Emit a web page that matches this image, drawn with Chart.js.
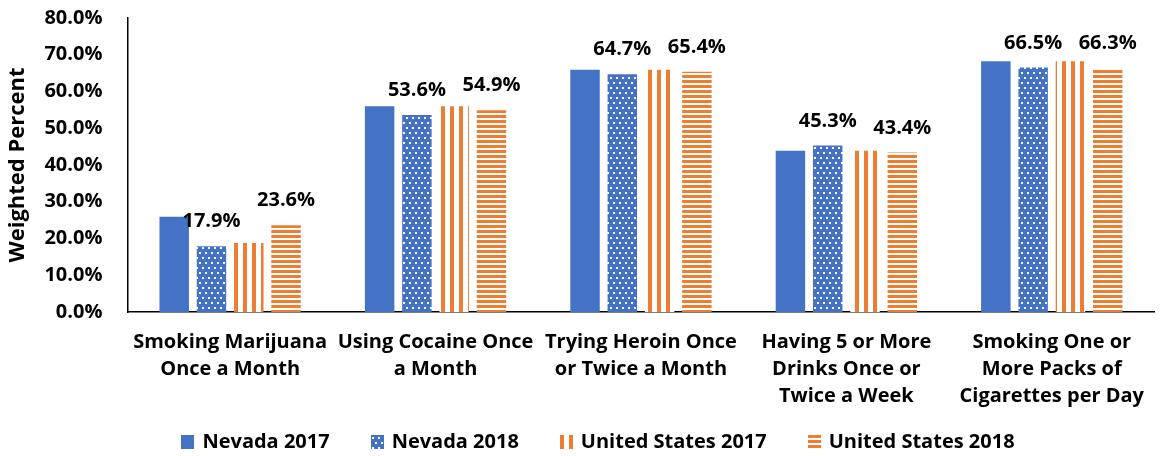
<!DOCTYPE html>
<html>
<head>
<meta charset="utf-8">
<script src="https://cdn.jsdelivr.net/npm/chart.js@4.4.1/dist/chart.umd.min.js"></script>
<style>
  html, body { margin: 0; padding: 0; background: #fff; }
  #wrap { width: 1161px; height: 456px; }
</style>
</head>
<body>
<div id="wrap"><canvas id="chart" width="1161" height="456"></canvas></div>
<script>
// категории и значения (в процентах)
const categories = [
    ['Smoking Marijuana', 'Once a Month'],
    ['Using Cocaine Once', 'a Month'],
    ['Trying Heroin Once', 'or Twice a Month'],
    ['Having 5 or More', 'Drinks Once or', 'Twice a Week'],
    ['Smoking One or', 'More Packs of', 'Cigarettes per Day']
];
const nevada2017 = [25.9, 56.0, 65.9, 43.9, 68.2];
const nevada2018 = [17.9, 53.6, 64.7, 45.3, 66.5];
const us2017 = [18.8, 56.0, 65.9, 43.9, 68.2];
const us2018 = [23.6, 54.9, 65.4, 43.4, 66.3];
const yTicks = [0, 10, 20, 30, 40, 50, 60, 70, 80];

const BLUE = '#4472C4';
const ORANGE = '#ED7D31';
const FONT = 'Open Sans';

// --- узоры для столбиков ---
function makePattern(w, h, draw) {
    const c = document.createElement('canvas');
    c.width = w; c.height = h;
    const g = c.getContext('2d');
    draw(g);
    return g.createPattern(c, 'repeat');
}
const dotsPattern = makePattern(6, 10, g => {
    g.fillStyle = BLUE; g.fillRect(0, 0, 6, 10);
    g.fillStyle = '#fff';
    g.fillRect(1, 2, 2, 2);
    g.fillRect(4, 7, 2, 2);
});
const vStripes = makePattern(9, 4, g => {
    g.fillStyle = '#fff'; g.fillRect(0, 0, 9, 4);
    g.fillStyle = ORANGE; g.fillRect(0, 0, 4, 4);
});
const hStripes = makePattern(4, 5, g => {
    g.fillStyle = '#fff'; g.fillRect(0, 0, 4, 5);
    g.fillStyle = ORANGE; g.fillRect(0, 0, 4, 3);
});

// подписи значений над столбиками Nevada 2018 и United States 2018
const valueLabels = {
    id: 'valueLabels',
    afterDatasetsDraw(chart) {
        const ctx = chart.ctx;
        ctx.save();
        ctx.font = `bold 20px "${FONT}"`;
        ctx.fillStyle = '#000';
        ctx.textAlign = 'center';
        ctx.textBaseline = 'alphabetic';
        [1, 3].forEach(di => {
            const meta = chart.getDatasetMeta(di);
            meta.data.forEach((bar, i) => {
                const v = chart.data.datasets[di].data[i];
                ctx.fillText(v.toFixed(1) + '%', bar.x, bar.y - 19);
            });
        });
        ctx.restore();
    }
};

// легенда внизу — рисуем сами, чтобы держать отступы как в оригинале
const bottomLegend = {
    id: 'bottomLegend',
    afterDraw(chart) {
        const ctx = chart.ctx;
        const sets = chart.data.datasets;
        const boxW = 13, boxH = 14, gapText = 8, gapItem = 41, cy = 442;
        ctx.save();
        ctx.font = `bold 20px "${FONT}"`;
        const widths = sets.map(ds => ctx.measureText(ds.label).width);
        const total = widths.reduce((s, w) => s + boxW + gapText + w, 0) + gapItem * (sets.length - 1);
        let x = 598 - total / 2;
        sets.forEach((ds, i) => {
            ctx.save();
            ctx.translate(Math.round(x), cy - boxH / 2);
            ctx.fillStyle = ds.backgroundColor;
            ctx.fillRect(0, 0, boxW, boxH);
            ctx.restore();
            ctx.fillStyle = '#000';
            ctx.textAlign = 'left';
            ctx.textBaseline = 'middle';
            ctx.fillText(ds.label, x + boxW + gapText, cy);
            x += boxW + gapText + widths[i] + gapItem;
        });
        ctx.restore();
    }
};

const ctx = document.getElementById('chart').getContext('2d');
new Chart(ctx, {
    type: 'bar',
    data: {
        labels: categories,
        datasets: [
            { label: 'Nevada 2017', data: nevada2017, backgroundColor: BLUE },
            { label: 'Nevada 2018', data: nevada2018, backgroundColor: dotsPattern },
            { label: 'United States 2017', data: us2017, backgroundColor: vStripes },
            { label: 'United States 2018', data: us2018, backgroundColor: hStripes }
        ]
    },
    options: {
        responsive: false,
        animation: false,
        layout: { padding: { top: 0, right: 0, left: 5, bottom: 46 } },
        datasets: { bar: { categoryPercentage: 0.726, barPercentage: 0.79, borderWidth: 0 } },
        plugins: {
            tooltip: { enabled: false },
            legend: { display: false }
        },
        scales: {
            x: {
                grid: { display: false, drawTicks: false },
                border: { display: true, color: '#000', width: 1.5 },
                afterFit: axis => { axis.height -= 17; },
                ticks: {
                    color: '#000',
                    padding: 17,
                    maxRotation: 0,
                    font: { family: FONT, size: 20, weight: 'bold', lineHeight: 1.35 }
                }
            },
            y: {
                min: 0,
                max: 80,
                afterBuildTicks: axis => { axis.ticks = yTicks.map(v => ({ value: v })); },
                afterFit: axis => { axis.paddingTop = 18; axis.width -= 25; },
                grid: { display: false, drawTicks: false },
                border: { display: true, color: '#000', width: 1.5 },
                ticks: {
                    color: '#000',
                    padding: 25,
                    font: { family: FONT, size: 20, weight: 'bold' },
                    callback: v => v.toFixed(1) + '%'
                },
                title: {
                    display: true,
                    text: 'Weighted Percent',
                    color: '#000',
                    padding: { top: 0, bottom: 13 },
                    font: { family: FONT, size: 22, weight: 'bold' }
                }
            }
        }
    },
    plugins: [valueLabels, bottomLegend]
});
</script>
</body>
</html>
